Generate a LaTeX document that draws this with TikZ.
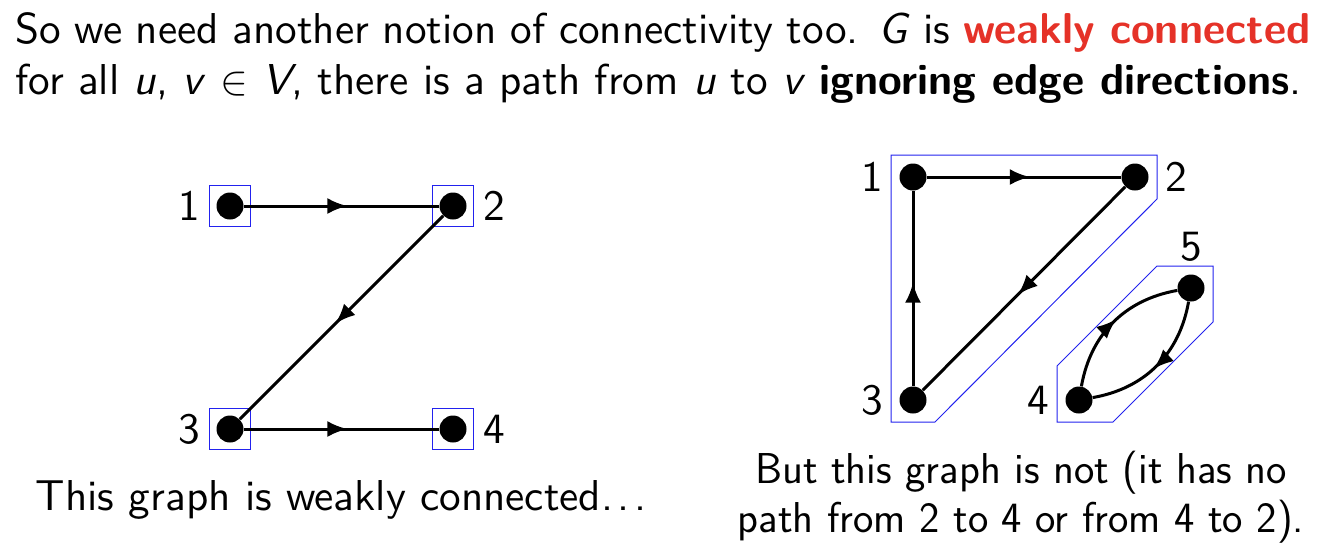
\documentclass[tikz,border=0pt]{standalone}
\usepackage{fontspec}
\setsansfont{lmsans10-regular.otf}[BoldFont=lmsans10-bold.otf, ItalicFont=lmsans10-oblique.otf, BoldItalicFont=lmsans10-boldoblique.otf]
\newfontfamily\narrowsans{lmsans17-regular.otf}
\usetikzlibrary{arrows.meta, positioning, calc, decorations.markings}
\definecolor{cred}{HTML}{E53228}
\definecolor{cblue}{HTML}{2222EE}
\newcommand{\spreaddots}{.\kern2.2pt.\kern2.2pt.}
\tikzset{
  every picture/.style={font=\sffamily\fontsize{21.6}{26}\selectfont},
  vert/.style={circle, fill=black, inner sep=0pt, minimum size=13.5pt},
  lbl/.style={inner sep=0pt},
  midarrow/.style={draw, line width=1.5pt, postaction={decorate},
    decoration={markings, mark=at position 0.53 with {\arrow{Latex[length=10pt,width=8pt]}}}},
  sq/.style={draw=cblue, line width=0.5pt, minimum size=20.5pt, inner sep=0pt},
  hull/.style={draw=cblue, line width=0.5pt},
  txt/.style={inner sep=0pt, anchor=base west},
  captext/.style={inner sep=0pt, anchor=base},
}
\begin{document}
\begin{tikzpicture}[x=0.5pt, y=-0.5pt, label distance=8pt]
  \useasboundingbox (0,0) rectangle (1334,559);
  % statement
  \node[txt] (line1) at (15,43) {\makebox[647.5pt][s]{So we need another notion of connectivity too. \textit{G} is \textcolor{cred}{\bfseries weakly connected}}};
  \node[txt] (line2) at (15,94) {for all \textit{u}, \textit{v} $\in$ \textit{V}, there is a path from \textit{u} to \textit{v} \textbf{ignoring edge directions}.};

  % left graph: weakly connected
  \foreach \n/\x/\y in {a1/230/206, a2/453/206, a3/230/429, a4/453/429}
    \node[sq] (s\n) at (\x,\y) {};
  \node[vert, label={[lbl]left:1}] (a1) at (sa1) {};
  \node[vert, label={[lbl]right:2}] (a2) at (sa2) {};
  \node[vert, label={[lbl]left:3}] (a3) at (sa3) {};
  \node[vert, label={[lbl]right:4}] (a4) at (sa4) {};
  \foreach \a/\b in {a1/a2, a2/a3, a3/a4} \draw[midarrow] (\a) -- (\b);
  \node[captext] (capl) at (341,510) {This graph is weakly connected\spreaddots};

  % right graph: not weakly connected
  \node[vert, label={[lbl]left:1}] (b1) at (913,177) {};
  \node[vert, label={[lbl]right:2}] (b2) at (1135,177) {};
  \node[vert, label={[lbl]left:3}] (b3) at (913,400) {};
  \node[vert, label={[lbl]left:4}] (b4) at (1079,400) {};
  \node[vert, label={[lbl, label distance=6pt]above:5}] (b5) at (1191,288) {};
  \foreach \a/\b in {b1/b2, b2/b3, b3/b1} \draw[midarrow] (\a) -- (\b);
  \draw[midarrow] (b4) to[bend left=35] (b5);
  \draw[midarrow] (b5) to[bend left=35] (b4);
  \draw[hull] ($(b1)+(-22,-22)$) -- ($(b2)+(22,-22)$) -- ($(b2)+(22,22)$)
    -- ($(b3)+(22,22)$) -- ($(b3)+(-22,22)$) -- cycle;
  \draw[hull] ($(b4)+(-22,22)$) -- ($(b4)+(-22,-34)$) -- ($(b5)+(-34,-22)$)
    -- ($(b5)+(22,-22)$) -- ($(b5)+(22,34)$) -- ($(b4)+(34,22)$) -- cycle;
  \node[captext, font=\narrowsans\fontsize{21.6}{26}\selectfont] (capr1) at (1021,483) {But this graph is not (it has no};
  \node[captext, font=\narrowsans\fontsize{21.6}{26}\selectfont] (capr2) at (1021,532) {path from 2 to 4 or from 4 to 2).};
\end{tikzpicture}
\end{document}
